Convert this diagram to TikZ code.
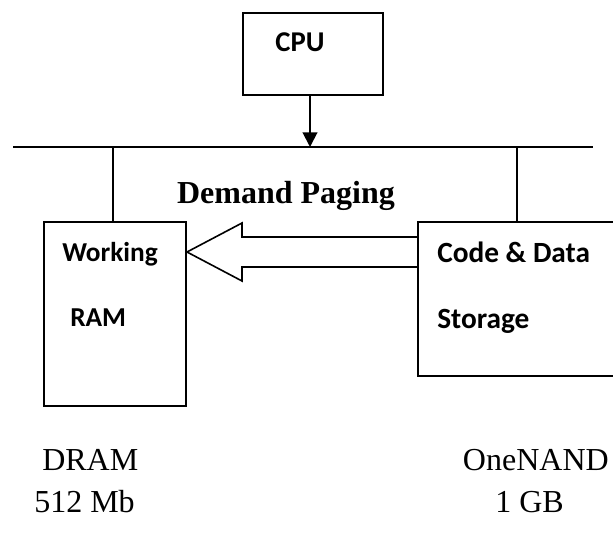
\documentclass[tikz,border=0pt]{standalone}
\usepackage{fontspec}
\setmainfont{Liberation Serif}
\newfontfamily\calibrifont{Carlito}
\usetikzlibrary{arrows.meta}

\tikzset{
  unitbox/.style={draw, line width=1.5pt, inner sep=0pt, anchor=north west},
  boxlabel/.style={font=\calibrifont\bfseries\fontsize{20.5}{24}\selectfont, inner sep=0pt, anchor=base west},
  widelabel/.style={boxlabel, font=\calibrifont\bfseries\fontsize{22}{26}\selectfont},
  memlabel/.style={font=\fontsize{24}{28}\selectfont, inner sep=0pt},
  wire/.style={line width=1.5pt},
}

\begin{document}
\begin{tikzpicture}[x=0.75pt, y=-0.75pt]
  \useasboundingbox (0,0) rectangle (613,535);
  \clip (0,0) rectangle (613,535);

  % processor
  \node[unitbox, minimum width=105pt, minimum height=61.5pt] (cpu) at (242,12) {};
  \node[boxlabel, anchor=base, font=\calibrifont\bfseries\fontsize{21.5}{25}\selectfont] (cpulbl) at (300,51) {CPU};

  % system bus
  \coordinate (busL) at (13,147);
  \coordinate (busR) at (593,147);
  \coordinate (cpuTap) at (310,147);
  \coordinate (ramTap) at (113,147);
  \coordinate (nandTap) at (517,147);
  \draw[line width=1.8pt] (busL) -- (busR);

  % memories
  \node[unitbox, minimum width=106.5pt, minimum height=138pt] (ram) at (43,221) {};
  \node[unitbox, minimum width=172pt, minimum height=115.5pt] (nand) at (417,221) {};

  \node[boxlabel] (ramA) at (62,261) {Working};
  \node[boxlabel] (ramB) at (70,326) {RAM};
  \node[widelabel] (nandA) at (437,262) {Code \& Data};
  \node[widelabel] (nandB) at (437,328) {Storage};

  % bus connections
  \draw[wire, -{Triangle[length=11pt, width=11pt]}] (cpu.south -| cpuTap) -- (cpuTap);
  \draw[wire] (ramTap) -- (ramTap |- ram.north);
  \draw[wire] (nandTap) -- (nandTap |- nand.north);

  % demand paging transfer arrow
  \node[font=\bfseries\fontsize{24}{28}\selectfont, inner sep=0pt, anchor=base] (paging) at (286,203) {Demand Paging};
  \draw[line width=1.2pt, line join=miter]
    (nand.west |- 0,237) -- (242,237) -- (242,223) -- (ram.east |- 0,252)
    -- (242,281) -- (242,267) -- (nand.west |- 0,267);

  % memory types
  \node[memlabel, anchor=base west] (dram) at (42,470) {DRAM};
  \node[memlabel, anchor=base west] (dramsz) at (34,512) {512 Mb};
  \node[memlabel, anchor=base east] (onenand) at (609,470) {OneNAND};
  \node[memlabel, anchor=base west] (onenandsz) at (495,512) {1 GB};
\end{tikzpicture}
\end{document}
